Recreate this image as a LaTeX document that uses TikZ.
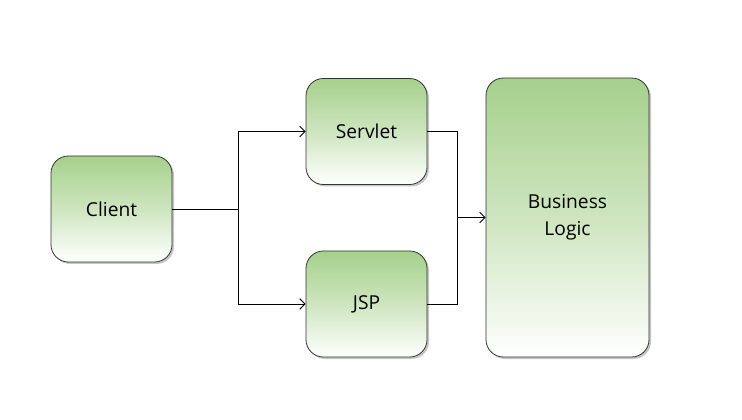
\documentclass[tikz,border=0pt]{standalone}
\usepackage{fontspec}
\setmainfont{Open Sans}
\usetikzlibrary{shadows,arrows.meta}
\definecolor{boxgreen}{RGB}{166,208,140}
\tikzset{block/.style={draw=black!80, line width=0.6pt, rounded corners=13pt,
    top color=boxgreen, bottom color=white, middle color=boxgreen!55,
    drop shadow={shadow xshift=1.5pt, shadow yshift=-1.5pt, opacity=0.45},
    align=center, font=\Large, minimum width=90.75pt, minimum height=79.5pt},
    link/.style={draw, line width=0.6pt},
    tip/.style={-{Straight Barb[length=4pt,width=8pt]}}}
\begin{document}
\begin{tikzpicture}
		[x=0.75pt, y=-0.75pt]
		\useasboundingbox (0,0) rectangle (742,420);
		\node[block] (client) at (111.5,209){Client};
		\node[block] (servlet) at (366.5,131.5){Servlet};
		\node[block] (jsp) at (366.5,304){JSP};
		\node[block, minimum width=122.25pt, minimum height=209.25pt] (logic) at (567.5,217.5){Business\\[2pt]Logic};
		\coordinate (split) at (238,209);
		\coordinate (merge) at (457,217.5);
		\draw[link] (client) -- (split);
		\draw[link,tip] (split) |- (servlet);
		\draw[link,tip] (split) |- (jsp);
		\draw[link] (servlet) -| (merge);
		\draw[link] (jsp) -| (merge);
		\draw[link,tip] (merge) -- (logic);
		\end{tikzpicture}
\end{document}
